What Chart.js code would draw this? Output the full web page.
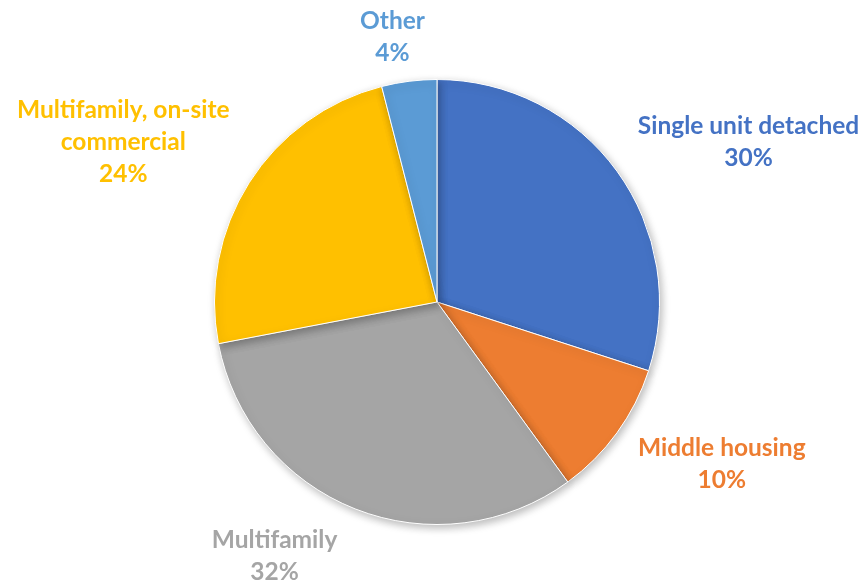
<!DOCTYPE html>
<html>
<head>
<meta charset="utf-8">
<script src="https://cdn.jsdelivr.net/npm/chart.js@4.4.1/dist/chart.umd.min.js"></script>
<style>
    html, body { margin: 0; padding: 0; background: #ffffff; }
    #wrap { width: 866px; height: 585px; }
</style>
</head>
<body>
<div id="wrap"><canvas id="housingPie"></canvas></div>
<script>
// Tipos de vivienda
const categorias = ['Single unit detached', 'Middle housing', 'Multifamily', 'Multifamily, on-site commercial', 'Other'];
const porcentajes = [30, 10, 32, 24, 4];
const colores = ['#4472C4', '#ED7D31', '#A5A5A5', '#FFC000', '#5B9BD5'];

// Líneas de cada etiqueta (nombre partido + porcentaje)
const lineasEtiqueta = [
    ['Single unit detached'],
    ['Middle housing'],
    ['Multifamily'],
    ['Multifamily, on-site', 'commercial'],
    ['Other']
];
// Posición de cada etiqueta respecto al centro, en radios
const anclaEtiqueta = [
    [1.40, -0.72],
    [1.28, 0.73],
    [-0.73, 1.14],
    [-1.41, -0.72],
    [-0.20, -1.19]
];

// Sombra suave bajo las porciones
const sombraPie = {
    id: 'sombraPie',
    beforeDatasetsDraw(chart) {
        const ctx = chart.ctx;
        ctx.save();
        ctx.shadowColor = 'rgba(0, 0, 0, 0.28)';
        ctx.shadowBlur = 9;
        ctx.shadowOffsetX = 2;
        ctx.shadowOffsetY = 3;
    },
    afterDatasetsDraw(chart) {
        chart.ctx.restore();
    }
};

// Etiquetas de datos con el color de cada porción
const etiquetasPie = {
    id: 'etiquetasPie',
    afterDraw(chart) {
        const ctx = chart.ctx;
        const arcos = chart.getDatasetMeta(0).data;
        const valores = chart.data.datasets[0].data;
        ctx.save();
        ctx.font = 'bold 24.5px Lato, "Open Sans", sans-serif';
        ctx.textAlign = 'center';
        ctx.textBaseline = 'middle';
        const altoLinea = 32;
        arcos.forEach((arco, i) => {
            const r = arco.outerRadius;
            const cx = arco.x + anclaEtiqueta[i][0] * r;
            const cy = arco.y + anclaEtiqueta[i][1] * r;
            const lineas = lineasEtiqueta[i].concat([valores[i] + '%']);
            const inicio = cy - (lineas.length - 1) * altoLinea / 2;
            ctx.fillStyle = colores[i];
            lineas.forEach((txt, j) => {
                ctx.fillText(txt, cx, inicio + j * altoLinea);
            });
        });
        ctx.restore();
    }
};

new Chart(document.getElementById('housingPie'), {
    type: 'pie',
    data: {
        labels: categorias,
        datasets: [{
            data: porcentajes,
            backgroundColor: colores,
            borderColor: '#ffffff',
            borderWidth: 1
        }]
    },
    options: {
        responsive: true,
        maintainAspectRatio: false,
        animation: false,
        layout: {
            padding: { top: 79, bottom: 60, left: 214, right: 206 }
        },
        plugins: {
            legend: { display: false },
            tooltip: { enabled: false }
        }
    },
    plugins: [sombraPie, etiquetasPie]
});
</script>
</body>
</html>
